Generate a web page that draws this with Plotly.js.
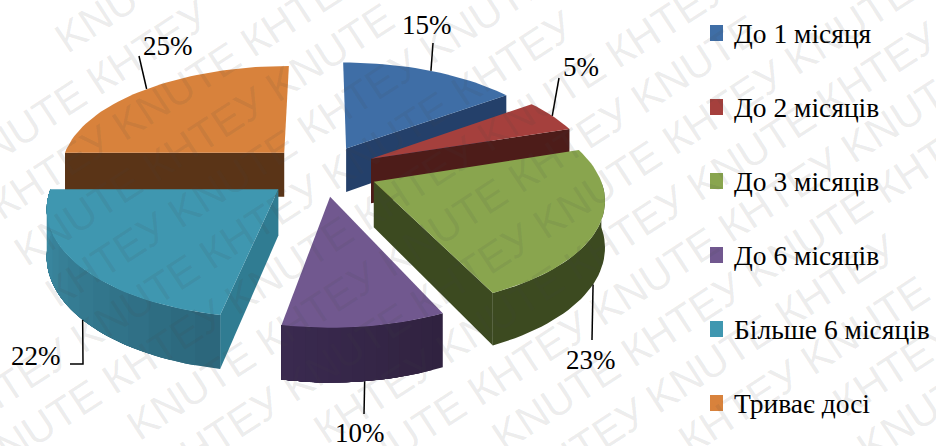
<!DOCTYPE html>
<html>
<head>
<meta charset="utf-8">
<script src="https://cdn.plot.ly/plotly-3.0.1.min.js"></script>
<style>html,body{margin:0;padding:0;background:#fff}#chart{width:936px;height:446px}</style>
</head>
<body>
<div id="chart"></div>
<script>
// Share of respondents by duration
const categories = ['До 1 місяця', 'До 2 місяців', 'До 3 місяців', 'До 6 місяців', 'Більше 6 місяців', 'Триває досі'];
const values = [15, 5, 23, 10, 22, 25];
const topColors = ['#3f6ea6', '#a5403d', '#89a54e', '#71588f', '#3f97b0', '#d8823c'];
const wallStart = ['#24406a', '#4d1c19', '#3c4a20', '#3a2a50', '#3e8fa8', '#5a3417'];
const wallEnd = ['#24406a', '#4d1c19', '#3c4a20', '#30223f', '#2b667a', '#5a3417'];
const sideColors = ['#24406a', '#4d1c19', '#3c4a20', '#3a2a50', '#307c92', '#5a3417'];
const explode = [0.24, 0.24, 0.23, 0.24, 0.27, 0.24];
const widthScale = [0.98, 0.98, 0.985, 0.96, 0.975, 0.985];
const nudgeX = [-3, -2, 0, -2, 2, -3];
const nudgeY = [0, 0, 2, 1, 1, 0];
const paintOrder = [5, 0, 1, 2, 4, 3];

// Perspective pie geometry, in page pixels
const pie = {cx: 325, cy: 170, radius: 228, tilt: 104, persp: 0.144, depth: 45};

// Leader lines: rim angle where each starts, then its elbows; label centres
const leaderAngle = [27, 63, 118, 172.8, 229, 315];
const leaderOnWall = [false, false, true, true, true, false];
const leaderVia = [[[433, 43]], [[559, 78]], [[592, 340]], [[364, 414]], [[83, 364], [70, 364]], [[139, 56]]];
const labelPos = [[427, 25], [581, 67], [591, 360], [360, 433], [36, 356], [168, 46]];

const legend = {swatchX: 710, swatchW: 13, swatchH: 16, textX: 732, top: 33, step: 74};

// Diagonal background lettering
const watermarkWords = ['КНТЕУ', 'KNUTE'];
const watermarkFont = {family: '"Liberation Sans", sans-serif', size: 42, color: 'rgba(70,70,70,0.10)'};
const watermarkAngle = -33;
const watermarkOrigin = [610, 57];
const watermarkRowGap = 52;
const watermarkPitch = 300;
const watermarkWordOffset = 146;

const total = values.reduce((a, b) => a + b, 0);
const rad = d => d * Math.PI / 180;

// Project a disc point (polar angle clockwise from twelve o'clock) to the page
function project(i, deg, r, low, bisector) {
  const ex = explode[i] * Math.sin(rad(bisector));
  const ev = -explode[i] * Math.cos(rad(bisector));
  const x = ex + r * Math.sin(rad(deg)) * widthScale[i];
  const v = ev - r * Math.cos(rad(deg));
  const s = 1 / (1 - pie.persp * v);
  return [pie.cx + nudgeX[i] + x * pie.radius * s,
          pie.cy + nudgeY[i] + (v * pie.tilt + (low ? pie.depth : 0)) * s];
}

function polygon(pts, color) {
  return {
    type: 'scatter', mode: 'lines', fill: 'toself', fillcolor: color,
    x: pts.map(p => p[0]), y: pts.map(p => p[1]),
    line: {color: color, width: 0}, hoverinfo: 'skip', showlegend: false
  };
}

function mix(a, b, t) {
  const c = h => [1, 3, 5].map(k => parseInt(h.substr(k, 2), 16));
  const A = c(a), B = c(b);
  return 'rgb(' + A.map((v, k) => Math.round(v + (B[k] - v) * t)).join(',') + ')';
}

let cumulative = 0;
const spans = values.map(v => {
  const s = {from: cumulative / total * 360, to: (cumulative + v) / total * 360};
  cumulative += v;
  s.mid = (s.from + s.to) / 2;
  return s;
});

const traces = [];
paintOrder.forEach(i => {
  const {from, to, mid} = spans[i];
  const arc = (a, b, low) => {
    const n = Math.max(2, Math.ceil((b - a) / 2));
    const pts = [];
    for (let k = 0; k <= n; k++) pts.push(project(i, a + (b - a) * k / n, 1, low, mid));
    return pts;
  };
  const radialWall = a => traces.push(polygon([
    project(i, a, 0, false, mid), project(i, a, 1, false, mid),
    project(i, a, 1, true, mid), project(i, a, 0, true, mid)
  ], sideColors[i]));
  // only walls turned towards the viewer are painted
  if (Math.sin(rad(from)) < -1e-6) radialWall(from);
  if (Math.sin(rad(to)) > 1e-6) radialWall(to);
  // curved wall: each band repaints the rest of the arc, so the shading has no seams
  const arcFrom = Math.max(from, 90), arcTo = Math.min(to, 270);
  if (arcTo > arcFrom) {
    const bands = wallStart[i] === wallEnd[i] ? 1 : 14;
    for (let k = 0; k < bands; k++) {
      const a = arcFrom + (arcTo - arcFrom) * k / bands;
      const t = 1 - (k + 0.5) / bands;
      traces.push(polygon(arc(a, arcTo, false).concat(arc(a, arcTo, true).reverse()), mix(wallStart[i], wallEnd[i], t)));
    }
  }
  // top face
  traces.push(polygon([project(i, from, 0, false, mid)].concat(arc(from, to, false)), topColors[i]));
});

// Leader lines
values.forEach((v, i) => {
  const path = [project(i, leaderAngle[i], 1, leaderOnWall[i], spans[i].mid)].concat(leaderVia[i]);
  traces.push({
    type: 'scatter', mode: 'lines', x: path.map(p => p[0]), y: path.map(p => p[1]),
    line: {color: '#000', width: 1.5}, hoverinfo: 'skip', showlegend: false
  });
});

const annotations = [];
values.forEach((v, i) => {
  annotations.push({xref: 'x', yref: 'y', x: labelPos[i][0], y: labelPos[i][1], text: v + '%',
    showarrow: false, xanchor: 'center', yanchor: 'middle',
    font: {family: '"Liberation Serif", serif', size: 27, color: '#000'}});
});
categories.forEach((c, i) => {
  annotations.push({xref: 'x', yref: 'y', x: legend.textX, y: legend.top + i * legend.step, text: c,
    showarrow: false, xanchor: 'left', yanchor: 'middle',
    font: {family: '"Liberation Serif", serif', size: 27.5, color: '#000'}});
});

// Lay the lettering out in brick-offset rows along the diagonal
const ctx = document.createElement('canvas').getContext('2d');
ctx.font = watermarkFont.size + 'px "Liberation Sans"';
const dir = [Math.cos(rad(-watermarkAngle)), -Math.sin(rad(-watermarkAngle))];
const nrm = [-dir[1], dir[0]];
for (let row = -10; row <= 10; row++) {
  for (let col = -6; col <= 6; col++) {
    watermarkWords.forEach((word, w) => {
      const along = col * watermarkPitch + (row % 2 ? watermarkPitch / 2 : 0) +
        (w ? watermarkWordOffset : 0) + ctx.measureText(word).width / 2;
      const x = watermarkOrigin[0] + nrm[0] * row * watermarkRowGap + dir[0] * along;
      const y = watermarkOrigin[1] + nrm[1] * row * watermarkRowGap + dir[1] * along;
      if (x < -50 || x > 986 || y < -40 || y > 486) return;
      annotations.push({xref: 'x', yref: 'y', x: x, y: y, text: word, showarrow: false,
        textangle: watermarkAngle, xanchor: 'center', yanchor: 'middle', font: watermarkFont});
    });
  }
}

const shapes = topColors.map((color, i) => ({
  type: 'rect', xref: 'x', yref: 'y', line: {width: 0}, fillcolor: color,
  x0: legend.swatchX, x1: legend.swatchX + legend.swatchW,
  y0: legend.top + i * legend.step - legend.swatchH / 2,
  y1: legend.top + i * legend.step + legend.swatchH / 2
}));

const hiddenAxis = {visible: false, fixedrange: true, showgrid: false, zeroline: false};
Plotly.newPlot('chart', traces, {
  width: 936, height: 446,
  margin: {l: 0, r: 0, t: 0, b: 0},
  paper_bgcolor: '#fff', plot_bgcolor: '#fff',
  showlegend: false,
  xaxis: Object.assign({range: [0, 936]}, hiddenAxis),
  yaxis: Object.assign({range: [446, 0]}, hiddenAxis),
  shapes: shapes,
  annotations: annotations
}, {displayModeBar: false, staticPlot: true});
</script>
</body>
</html>
